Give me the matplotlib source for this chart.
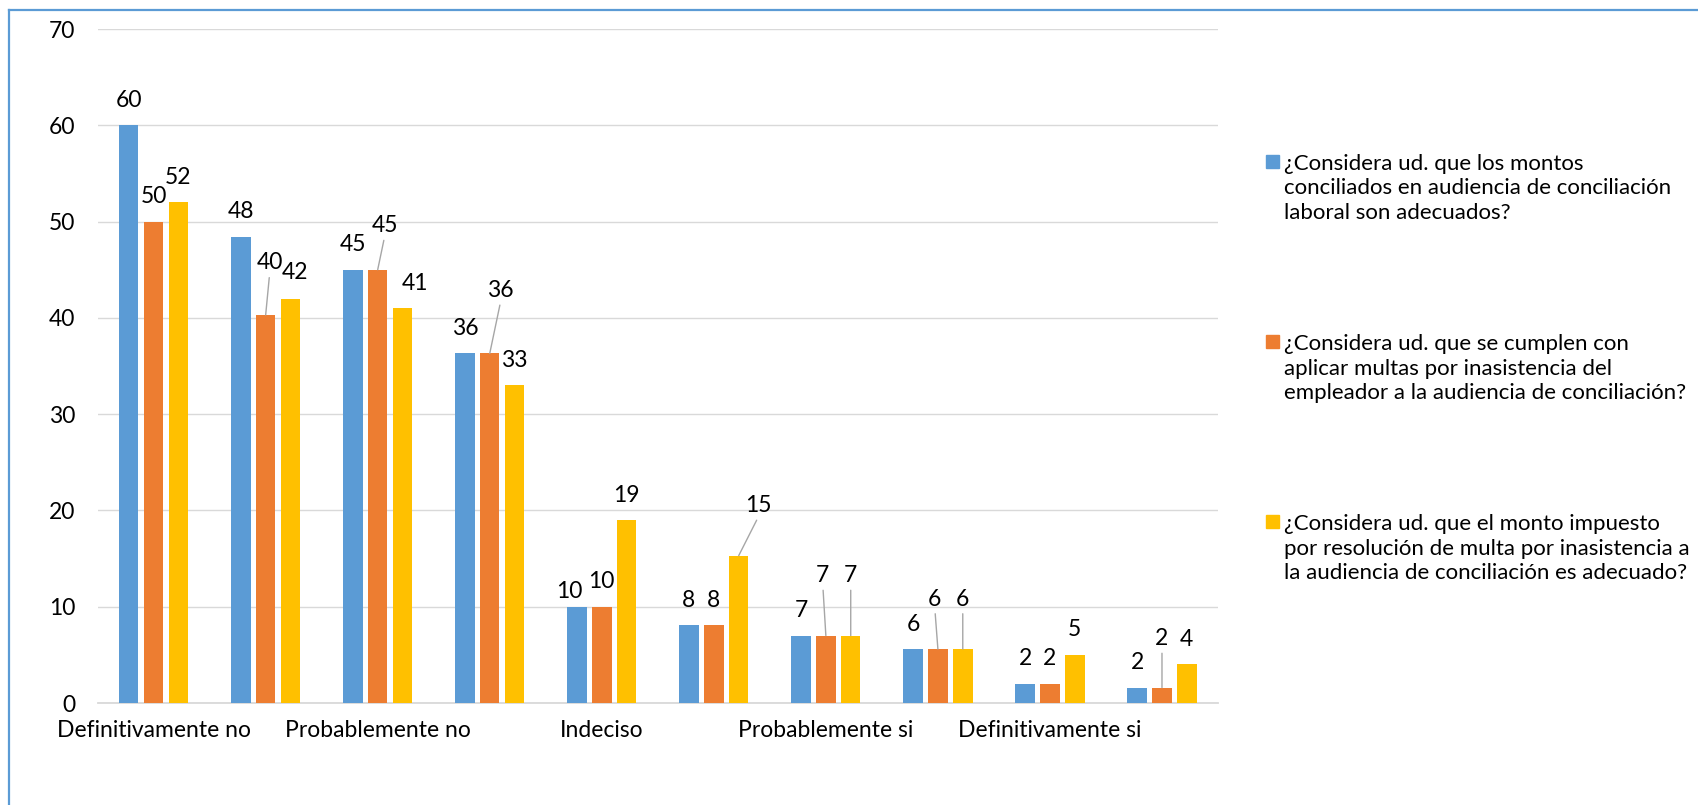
import matplotlib
matplotlib.use("Agg")
import matplotlib.pyplot as plt
from matplotlib.lines import Line2D
from matplotlib.patches import Rectangle
import numpy as np

plt.rcParams['font.family'] = ['Lato', 'DejaVu Sans']

# datos del grafico
categorias = ["Definitivamente no", "", "Probablemente no", "", "Indeciso", "",
              "Probablemente si", "", "Definitivamente si", ""]
montos_conciliados = [60, 48.4, 45, 36.3, 10, 8.1, 7, 5.6, 2, 1.6]
multas_inasistencia = [50, 40.3, 45, 36.3, 10, 8.1, 7, 5.6, 2, 1.6]
monto_resolucion = [52, 42, 41, 33, 19, 15.3, 7, 5.6, 5, 4]
nombres = [
    "¿Considera ud. que los montos\nconciliados en audiencia de conciliación\nlaboral son adecuados?",
    "¿Considera ud. que se cumplen con\naplicar multas por inasistencia del\nempleador a la audiencia de conciliación?",
    "¿Considera ud. que el monto impuesto\npor resolución de multa por inasistencia a\nla audiencia de conciliación es adecuado?",
]
series = [montos_conciliados, multas_inasistencia, monto_resolucion]
colores = ["#5B9BD5", "#ED7D31", "#FFC000"]

# etiquetas movidas a mano (serie, grupo): (dx, dy, linea guia) en pixeles
ajustes = {
    (1, 1): (4, 52, True), (2, 1): (4, 26, False),
    (1, 2): (7, 44, True), (2, 2): (12, 25, False),
    (1, 3): (11, 63, True),
    (0, 4): (-8, 15, False),
    (2, 5): (20, 50, True),
    (1, 6): (-3, 60, True), (2, 6): (0, 60, True),
    (1, 7): (-3, 50, True), (2, 7): (0, 50, True),
    (1, 9): (0, 49, True),
}

W, H = 1699, 805
fs = 16.5
fig = plt.figure(figsize=(W / 100, H / 100), dpi=100)
ax = fig.add_axes([97.6 / W, 1 - 703 / H, (1218 - 97.6) / W, (703 - 29) / H])

x = np.arange(len(categorias))
ancho = 0.174
paso = 0.222
for i, (vals, color) in enumerate(zip(series, colores)):
    pos = x + (i - 1) * paso
    ax.bar(pos, vals, width=ancho, color=color, zorder=3)
    for g, (px, v) in enumerate(zip(pos, vals)):
        dx, dy, guia = ajustes.get((i, g), (0, 25, False))
        props = None
        if guia:
            props = dict(arrowstyle='-', color='#A6A6A6', lw=1, shrinkA=1, shrinkB=0,
                         relpos=(0.5, 0))
        ax.annotate(f"{v:.0f}", xy=(px, v), xytext=(dx, dy), textcoords='offset pixels',
                    ha='center', va='center', fontsize=fs, arrowprops=props, zorder=4)

ax.set_xlim(-0.5, len(categorias) - 0.5)
ax.set_ylim(0, 70)
ax.set_yticks(range(0, 71, 10))
ax.set_xticks(x)
ax.set_xticklabels(categorias)
ax.grid(axis='y', color='#D9D9D9', lw=1)
ax.set_axisbelow(True)
for s in ['left', 'right', 'top']:
    ax.spines[s].set_visible(False)
ax.spines['bottom'].set_color('#D9D9D9')
ax.spines['bottom'].set_linewidth(1.3)
ax.tick_params(axis='both', length=0, labelsize=fs)
ax.tick_params(axis='y', pad=16)
ax.tick_params(axis='x', pad=12)

# leyenda
for i, (nombre, color) in enumerate(zip(nombres, colores)):
    yc = 161.5 + i * 180
    fig.patches.append(Rectangle((1266 / W, 1 - (yc + 6.5) / H), 13 / W, 13 / H,
                                 transform=fig.transFigure, color=color))
    fig.text(1284 / W, 1 - (yc + 27) / H, nombre, va='center', ha='left',
             fontsize=16, linespacing=1.26)

# borde
fig.add_artist(Line2D([9 / W, 9 / W], [0, 1 - 10 / H], color='#5B9BD5', lw=1.6))
fig.add_artist(Line2D([9 / W, 1], [1 - 10 / H, 1 - 10 / H], color='#5B9BD5', lw=1.6))

fig.savefig("out.png", dpi=100)
